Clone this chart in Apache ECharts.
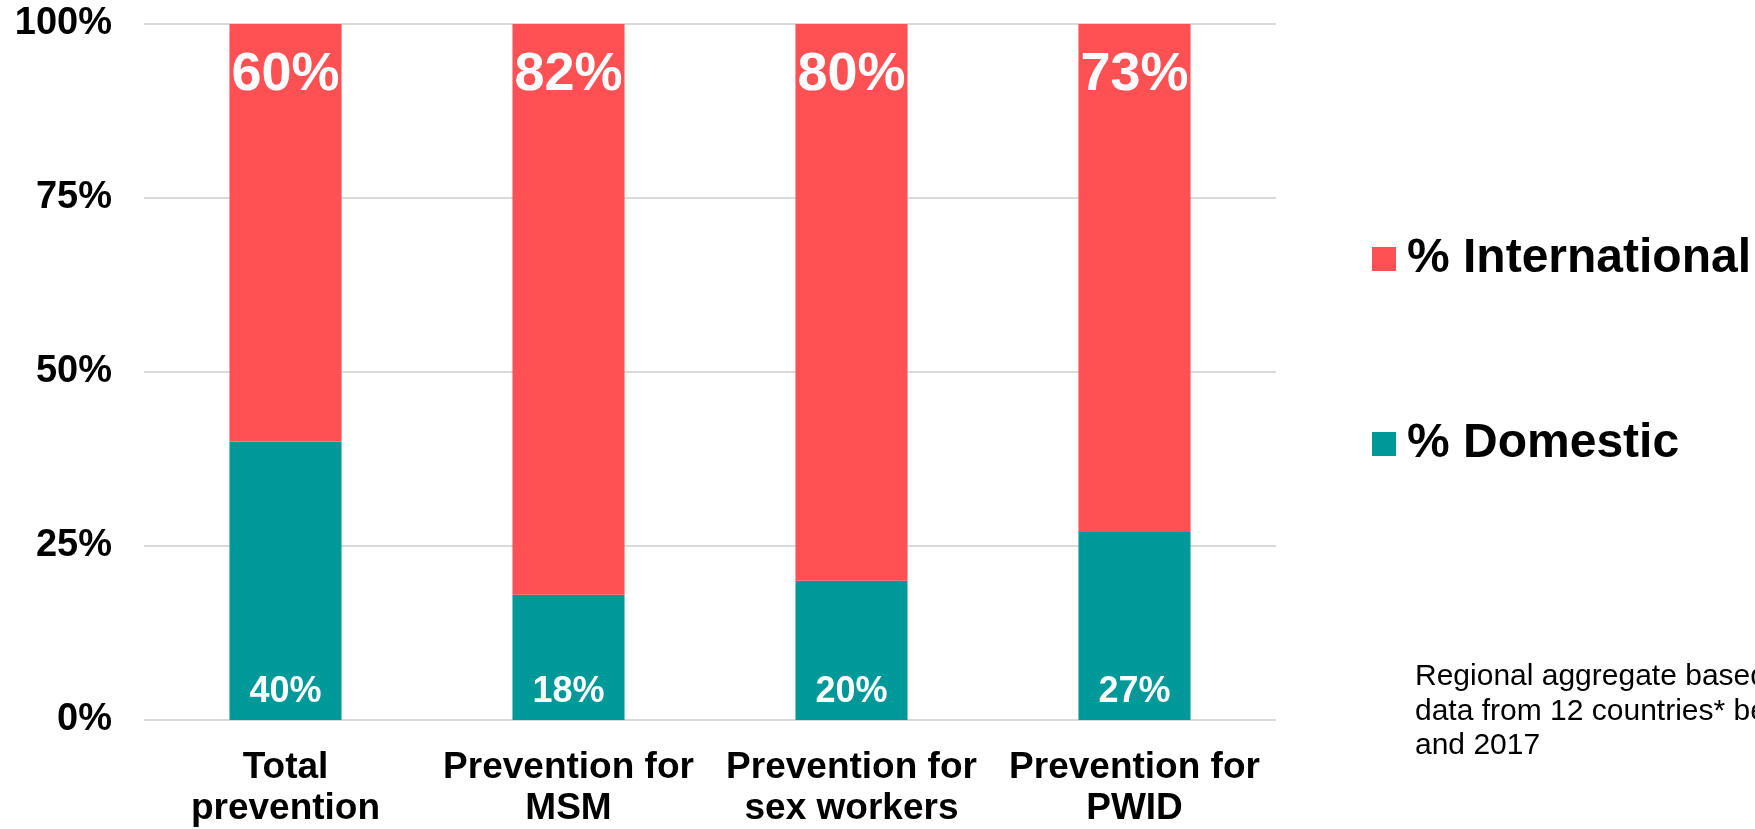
<!DOCTYPE html>
<html>
<head>
<meta charset="utf-8">
<script src="https://cdn.jsdelivr.net/npm/echarts@6/dist/echarts.min.js"></script>
<style>
  html, body { margin: 0; padding: 0; background: #ffffff; }
  #chart { width: 1755px; height: 829px; }
</style>
</head>
<body>
<div id="chart"></div>
<script>
// Share of prevention spending by funding source
const categories = ['Total\nprevention', 'Prevention for\nMSM', 'Prevention for\nsex workers', 'Prevention for\nPWID'];
const domestic = [40, 18, 20, 27];
const international = [60, 82, 80, 73];
const yTicks = [0, 25, 50, 75, 100];
const seriesNames = ['% International', '% Domestic'];
const noteLines = ['Regional aggregate based on', 'data from 12 countries* between', 'and 2017'];

const FONT = '"Liberation Sans", Arial, sans-serif';
const RED = '#FF5053';
const TEAL = '#009999';

const chart = echarts.init(document.getElementById('chart'));

chart.setOption({
  backgroundColor: '#ffffff',
  animation: false,
  textStyle: { fontFamily: FONT },
  grid: { left: 144, top: 24, width: 1132, height: 698, containLabel: false },
  legend: {
    data: seriesNames,
    orient: 'vertical',
    left: 1367,
    top: 230,
    icon: 'rect',
    itemWidth: 24,
    itemHeight: 24,
    itemGap: 137,
    selectedMode: false,
    textStyle: {
      fontFamily: FONT,
      fontSize: 48,
      fontWeight: 'bold',
      color: '#000000',
      lineHeight: 48,
      padding: [0, 0, 0, 6]
    }
  },
  xAxis: {
    type: 'category',
    data: categories,
    axisTick: { show: false },
    axisLine: { show: false },
    axisLabel: {
      interval: 0,
      margin: 27,
      fontFamily: FONT,
      fontSize: 37,
      fontWeight: 'bold',
      color: '#000000',
      lineHeight: 41
    }
  },
  yAxis: {
    type: 'value',
    min: yTicks[0],
    max: yTicks[yTicks.length - 1],
    interval: yTicks[1] - yTicks[0],
    axisLine: { show: false },
    axisTick: { show: false },
    splitLine: { lineStyle: { color: '#d9d9d9', width: 2 } },
    axisLabel: {
      margin: 32,
      fontFamily: FONT,
      fontSize: 38,
      fontWeight: 'bold',
      color: '#000000',
      formatter: v => v + '%'
    }
  },
  series: [
    {
      name: seriesNames[1],
      type: 'bar',
      stack: 'total',
      data: domestic,
      barWidth: '39.6%',
      itemStyle: { color: TEAL },
      label: {
        show: true,
        position: 'insideBottom',
        distance: 10,
        formatter: p => p.value + '%',
        fontFamily: FONT,
        fontSize: 36,
        fontWeight: 'bold',
        color: '#ffffff'
      }
    },
    {
      name: seriesNames[0],
      type: 'bar',
      stack: 'total',
      data: international,
      barWidth: '39.6%',
      itemStyle: { color: RED },
      label: {
        show: true,
        position: 'insideTop',
        distance: 24,
        formatter: p => p.value + '%',
        fontFamily: FONT,
        fontSize: 54,
        fontWeight: 'bold',
        color: '#ffffff'
      }
    }
  ],
  graphic: noteLines.map((line, i) => ({
    type: 'text',
    left: 1415,
    top: 662 + i * 34.5,
    style: {
      text: line,
      font: '30px ' + FONT,
      fill: '#000000'
    }
  }))
});
</script>
</body>
</html>
